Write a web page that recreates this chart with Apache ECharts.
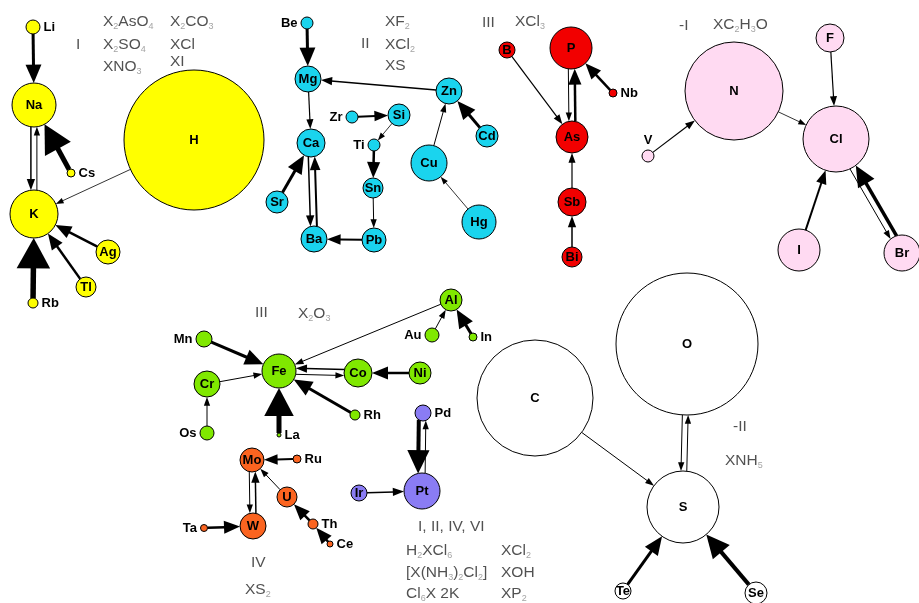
<!DOCTYPE html>
<html>
<head>
<meta charset="utf-8">
<script src="https://cdn.jsdelivr.net/npm/echarts@6/dist/echarts.min.js"></script>
<style>
html, body { margin: 0; padding: 0; background: #fff; }
#main { width: 919px; height: 603px; }
</style>
</head>
<body>
<div id="main"></div>
<script>
// element nodes
var elements = ['Li', 'Na', 'K', 'H', 'Cs', 'Ag', 'Tl', 'Rb',
	'Be', 'Mg', 'Ca', 'Sr', 'Ba', 'Zr', 'Si', 'Ti', 'Sn', 'Pb', 'Zn', 'Cd', 'Cu', 'Hg',
	'B', 'P', 'Nb', 'As', 'Sb', 'Bi',
	'N', 'F', 'Cl', 'V', 'I', 'Br',
	'Al', 'Au', 'In', 'Mn', 'Fe', 'Co', 'Ni', 'Cr', 'Os', 'La', 'Rh',
	'Mo', 'Ru', 'U', 'W', 'Ta', 'Th', 'Ce',
	'Pd', 'Pt', 'Ir',
	'O', 'C', 'S', 'Te', 'Se'];
// valence group of each node
var groups = ['I', 'I', 'I', 'I', 'I', 'I', 'I', 'I',
	'II', 'II', 'II', 'II', 'II', 'II', 'II', 'II', 'II', 'II', 'II', 'II', 'II', 'II',
	'III', 'III', 'III', 'III', 'III', 'III',
	'-I', '-I', '-I', '-I', '-I', '-I',
	'IIIb', 'IIIb', 'IIIb', 'IIIb', 'IIIb', 'IIIb', 'IIIb', 'IIIb', 'IIIb', 'IIIb', 'IIIb',
	'IV', 'IV', 'IV', 'IV', 'IV', 'IV', 'IV',
	'VI', 'VI', 'VI',
	'-II', '-II', '-II', '-II', '-II'];
// node weight (circle radius)
var nodeValue = [7, 22, 24, 70, 4, 12, 10, 5,
	6, 13, 14, 11, 13, 6, 11, 6, 10, 12, 13, 11, 18, 17,
	8, 21, 4, 16, 14, 10,
	49, 14, 33, 6, 21, 18,
	11, 7, 4, 8, 17, 14, 11, 13, 7, 2, 5,
	12, 4, 10, 13, 3.5, 5, 3,
	8, 18, 8,
	71, 58, 36, 8, 11];
// links: source, target, strength
var links = [
	['Li', 'Na', 3], ['Na', 'K', 1.5], ['K', 'Na', 1], ['Cs', 'Na', 5], ['H', 'K', 0.8],
	['Ag', 'K', 2.5], ['Tl', 'K', 2.5], ['Rb', 'K', 5.5],
	['Be', 'Mg', 3], ['Zn', 'Mg', 1.5], ['Mg', 'Ca', 1.2], ['Sr', 'Ca', 3], ['Ca', 'Ba', 1.5],
	['Ba', 'Ca', 2], ['Zr', 'Si', 2], ['Si', 'Ti', 0.8], ['Ti', 'Sn', 2.5], ['Sn', 'Pb', 1],
	['Pb', 'Ba', 2], ['Cd', 'Zn', 3], ['Cu', 'Zn', 1], ['Hg', 'Cu', 0.8],
	['B', 'As', 1.2], ['P', 'As', 1], ['As', 'P', 2.5], ['Nb', 'P', 2.5], ['Sb', 'As', 1.2], ['Bi', 'Sb', 1.5],
	['V', 'N', 1.2], ['N', 'Cl', 0.8], ['F', 'Cl', 1.2], ['I', 'Cl', 2], ['Cl', 'Br', 1], ['Br', 'Cl', 3.5],
	['Al', 'Fe', 1], ['Au', 'Al', 1], ['In', 'Al', 3], ['Mn', 'Fe', 3], ['Cr', 'Fe', 1], ['Os', 'Cr', 1],
	['La', 'Fe', 5], ['Rh', 'Fe', 3], ['Co', 'Fe', 1.5], ['Fe', 'Co', 1], ['Ni', 'Co', 2.5],
	['Ru', 'Mo', 2], ['U', 'Mo', 1], ['Mo', 'W', 1], ['W', 'Mo', 1.5], ['Ta', 'W', 2.5], ['Th', 'U', 2.5], ['Ce', 'Th', 2.5],
	['Pd', 'Pt', 4], ['Pt', 'Pd', 1], ['Ir', 'Pt', 1.5],
	['C', 'S', 1], ['O', 'S', 1], ['S', 'O', 1], ['Te', 'S', 3], ['Se', 'S', 4]
];
// formula notes
var notes = [
	['I', 'I'], ['I', 'X{s|2}AsO{s|4}'], ['I', 'X{s|2}CO{s|3}'], ['I', 'X{s|2}SO{s|4}'], ['I', 'XCl'], ['I', 'XNO{s|3}'], ['I', 'XI'],
	['II', 'II'], ['II', 'XF{s|2}'], ['II', 'XCl{s|2}'], ['II', 'XS'],
	['III', 'III'], ['III', 'XCl{s|3}'],
	['-I', '-I'], ['-I', 'XC{s|2}H{s|3}O'],
	['IIIb', 'III'], ['IIIb', 'X{s|2}O{s|3}'],
	['IV', 'IV'], ['IV', 'XS{s|2}'],
	['VI', 'I, II, IV, VI'], ['VI', 'H{s|2}XCl{s|6}'], ['VI', 'XCl{s|2}'], ['VI', '[X(NH{s|3}){s|2}Cl{s|2}]'],
	['VI', 'XOH'], ['VI', 'Cl{s|6}X 2K'], ['VI', 'XP{s|2}'],
	['-II', '-II'], ['-II', 'XNH{s|5}']
];

// ---- layout (pixel positions on a 919x603 canvas) ----
var nodePos = {
	Li: [33, 27], Na: [34, 105], K: [34, 214], H: [194, 140], Cs: [71, 173], Ag: [108, 252], Tl: [86, 287], Rb: [33, 303],
	Be: [307, 23], Mg: [308, 79], Ca: [311, 143], Sr: [277, 202], Ba: [314, 239], Zr: [352, 117], Si: [399, 115],
	Ti: [374, 145], Sn: [373, 188], Pb: [374, 240], Zn: [449, 91], Cd: [487, 136], Cu: [429, 163], Hg: [479, 222],
	B: [507, 50], P: [571, 48], Nb: [613, 93], As: [572, 137], Sb: [572, 202], Bi: [572, 257],
	N: [734, 91], F: [830, 38], Cl: [836, 139], V: [648, 156], I: [799, 250], Br: [902, 253],
	Al: [451, 300], Au: [432, 335], In: [473, 337], Mn: [204, 339], Fe: [279, 371], Co: [358, 373], Ni: [420, 373],
	Cr: [207, 384], Os: [207, 433], La: [279, 435], Rh: [355, 415],
	Mo: [252, 460], Ru: [297, 459], U: [287, 497], W: [253, 526], Ta: [204, 528], Th: [313, 524], Ce: [330, 544],
	Pd: [423, 413], Pt: [422, 491], Ir: [359, 493],
	O: [687, 344], C: [535, 398], S: [683, 507], Te: [623, 591], Se: [756, 593]
};
var notePos = [
	[76, 45], [103, 22], [170, 22], [103, 45], [170, 45], [103, 67], [170, 62],
	[361, 44], [385, 22], [385, 45], [385, 66],
	[482, 23], [515, 22],
	[679, 26], [713, 25],
	[255, 313], [298, 314],
	[251, 563], [245, 590],
	[418, 527], [406, 551], [501, 551], [406, 573], [501, 573], [406, 594], [501, 594],
	[733, 427], [725, 461]
];
var labelSide = {
	Li: 'right', Cs: 'right', Rb: 'right', Nb: 'right', In: 'right', Rh: 'right', La: 'right',
	Ru: 'right', Th: 'right', Ce: 'right', Pd: 'right',
	Be: 'left', Zr: 'left', Ti: 'left', Mn: 'left', Os: 'left', Au: 'left', Ta: 'left',
	V: 'top'
};
var groupColor = {
	'I': '#ffff00', 'II': '#1ad4ee', 'III': '#f20000', '-I': '#ffdaf2',
	'IIIb': '#80e800', 'IV': '#fb6420', 'VI': '#8a7cf4', '-II': '#ffffff'
};

var myChart = echarts.init(document.getElementById('main'));

var nodeData = elements.map(function (name, i) {
	var p = nodePos[name];
	return {
		name: name,
		value: [p[0], p[1], nodeValue[i]],
		itemStyle: { color: groupColor[groups[i]] },
		label: { position: labelSide[name] || 'inside' }
	};
});

var linkData = links.map(function (l) {
	var a = elements.indexOf(l[0]), b = elements.indexOf(l[1]);
	var pair = links.some(function (m) { return m[0] === l[1] && m[1] === l[0]; }) ? 1 : 0;
	var pa = nodePos[l[0]], pb = nodePos[l[1]];
	return [pa[0], pa[1], pb[0], pb[1], nodeValue[a], nodeValue[b], l[2], pair];
});

var noteData = notes.map(function (n, i) {
	return { value: notePos[i], text: n[1] };
});

// draw one arrow link from border to border
function renderLink(params, api) {
	var a = api.coord([api.value(0), api.value(1)]);
	var b = api.coord([api.value(2), api.value(3)]);
	var k = api.size([1, 1])[0];
	var r1 = api.value(4) * k, r2 = api.value(5) * k;
	var w = api.value(6), pair = api.value(7);
	var dx = b[0] - a[0], dy = b[1] - a[1];
	var len = Math.sqrt(dx * dx + dy * dy);
	var ux = dx / len, uy = dy / len;
	var nx = -uy, ny = ux;
	var off = pair ? 2.5 + w * 0.4 : 0;
	var c1 = Math.sqrt(Math.max(r1 * r1 - off * off, 0));
	var c2 = Math.sqrt(Math.max(r2 * r2 - off * off, 0));
	var sx = a[0] + ux * c1 + nx * off, sy = a[1] + uy * c1 + ny * off;
	var ex = b[0] - ux * c2 + nx * off, ey = b[1] - uy * c2 + ny * off;
	var hl = 4 + 4.8 * w;
	var hw = 1.5 + 1.4 * w + 0.25 * w * w;
	var bx = ex - ux * hl, by = ey - uy * hl;
	return {
		type: 'group',
		children: [{
			type: 'line',
			shape: { x1: sx, y1: sy, x2: bx + ux, y2: by + uy },
			style: { stroke: '#000', lineWidth: w }
		}, {
			type: 'polygon',
			shape: { points: [[ex, ey], [bx + nx * hw, by + ny * hw], [bx - nx * hw, by - ny * hw]] },
			style: { fill: '#000' }
		}]
	};
}

option = {
	animation: false,
	backgroundColor: '#ffffff',
	grid: { left: 0, right: 0, top: 0, bottom: 0 },
	xAxis: { type: 'value', min: 0, max: 919, show: false },
	yAxis: { type: 'value', min: 0, max: 603, inverse: true, show: false },
	series: [{
		type: 'custom',
		silent: true,
		z: 1,
		renderItem: renderLink,
		encode: { x: [0, 2], y: [1, 3] },
		data: linkData
	}, {
		type: 'scatter',
		silent: true,
		z: 2,
		symbol: 'circle',
		symbolSize: function (val) {
			return val[2] * 2;
		},
		itemStyle: { borderColor: '#000', borderWidth: 1, opacity: 1 },
		label: {
			show: true,
			formatter: '{b}',
			distance: 3,
			color: '#000',
			fontFamily: 'Liberation Sans',
			fontWeight: 'bold',
			fontSize: 13
		},
		data: nodeData
	}, {
		type: 'scatter',
		silent: true,
		z: 3,
		symbolSize: 0,
		label: {
			show: true,
			position: 'right',
			distance: 0,
			formatter: function (p) {
				return p.data.text;
			},
			color: '#262626',
			fontFamily: 'Liberation Sans',
			fontSize: 15.5,
			lineHeight: 18,
			rich: {
				s: {
					fontFamily: 'Liberation Sans',
					fontSize: 9,
					color: '#8c8c8c',
					verticalAlign: 'bottom',
					lineHeight: 8
				}
			}
		},
		data: noteData
	}]
};
myChart.setOption(option);
</script>
</body>
</html>
